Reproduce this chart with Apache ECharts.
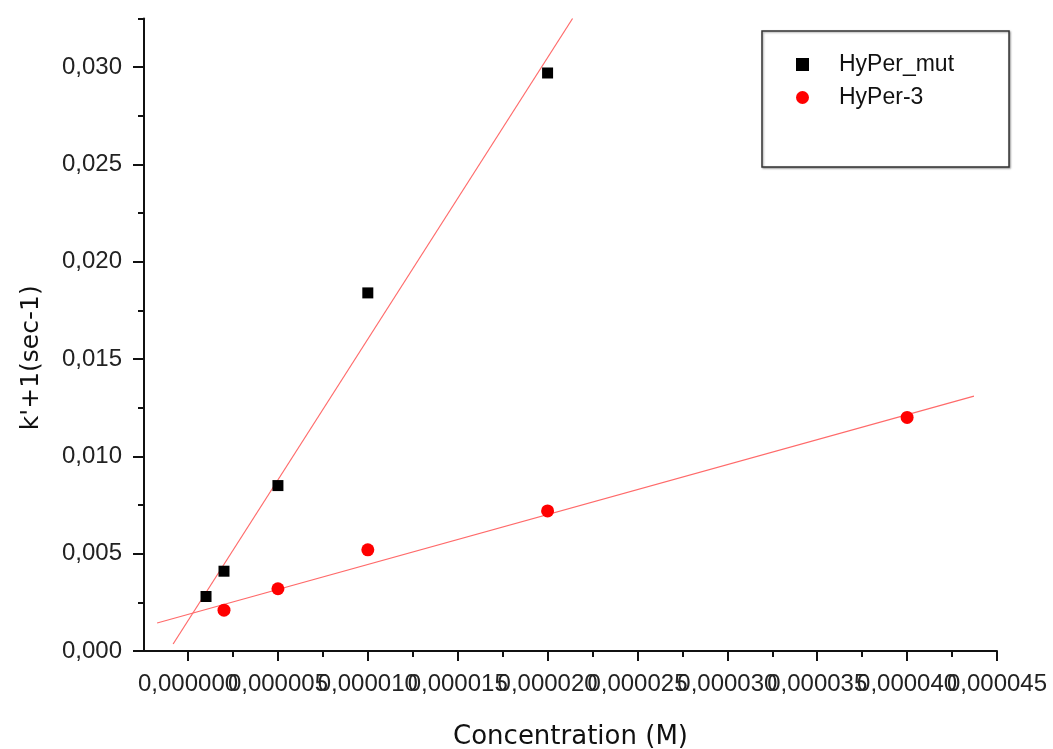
<!DOCTYPE html>
<html>
<head>
<meta charset="utf-8">
<script src="https://cdn.jsdelivr.net/npm/echarts@6/dist/echarts.min.js"></script>
<style>
html,body{margin:0;padding:0;background:#fff;}
#chart{width:1053px;height:749px;}
</style>
</head>
<body>
<div id="chart"></div>
<script>
// ---- data ----
var mutX = [0.000001, 0.000002, 0.000005, 0.000010, 0.000020];
var mutY = [0.0028, 0.0041, 0.0085, 0.0184, 0.0297];
var h3X = [0.000002, 0.000005, 0.000010, 0.000020, 0.000040];
var h3Y = [0.0021, 0.0032, 0.0052, 0.0072, 0.0120];
// fitted-line endpoints as drawn in the reference
var mutFitX = [-0.00000083, 0.00002139];
var mutFitY = [0.00036, 0.0325];
var h3FitX = [-0.00000172, 0.00004372];
var h3FitY = [0.00144, 0.0131];
// tick values (x labels split in two alternating sets so overlapping labels all stay visible)
var xMajorTicks = [0, 0.000005, 0.00001, 0.000015, 0.00002, 0.000025, 0.00003, 0.000035, 0.00004, 0.000045];
var xLabelsEven = [0, 0.00001, 0.00002, 0.00003, 0.00004];
var xLabelsOdd = [0.000005, 0.000015, 0.000025, 0.000035, 0.000045];
var xMinorTicks = [0.0000025, 0.0000075, 0.0000125, 0.0000175, 0.0000225, 0.0000275, 0.0000325, 0.0000375, 0.0000425];
var yMajorTicks = [0, 0.005, 0.010, 0.015, 0.020, 0.025, 0.030];
var yMinorTicks = [0.0025, 0.0075, 0.0125, 0.0175, 0.0225, 0.0275, 0.0325];
var seriesNames = ['HyPer_mut', 'HyPer-3'];

function pairs(xs, ys){ return xs.map(function(x,i){ return [x, ys[i]]; }); }

var xMin = -0.00000245, xMax = 0.000045;
var yMin = 0, yMax = 0.0325;
var axisColor = '#111';
var labelFont = { fontFamily: 'Liberation Sans, Arial, sans-serif', fontSize: 24, color: '#222' };
function fmtX(v){ return v.toFixed(6).replace('.', ','); }

var chart = echarts.init(document.getElementById('chart'));
chart.setOption({
  animation: false,
  backgroundColor: '#fff',
  grid: { left: 144, top: 18.5, right: 56, bottom: 98, containLabel: false, outerBoundsMode: 'none' },
  xAxis: [{
    type: 'value', min: xMin, max: xMax, position: 'bottom',
    name: 'Concentration (M)', nameLocation: 'middle', nameGap: 73,
    nameTextStyle: { fontFamily: 'DejaVu Sans, sans-serif', fontSize: 26, color: '#111' },
    axisLine: { show: true, onZero: false, lineStyle: { color: axisColor, width: 2 } },
    axisTick: { show: true, inside: false, length: 10, customValues: xMajorTicks, lineStyle: { color: axisColor, width: 2 } },
    axisLabel: Object.assign({ margin: 21, customValues: xLabelsEven, showMinLabel: true, showMaxLabel: true, formatter: fmtX }, labelFont),
    splitLine: { show: false }
  }, {
    type: 'value', min: xMin, max: xMax, position: 'bottom', gridIndex: 0,
    axisLine: { show: false, onZero: false },
    axisTick: { show: true, inside: false, length: 6, customValues: xMinorTicks, lineStyle: { color: axisColor, width: 2 } },
    axisLabel: Object.assign({ margin: 21, customValues: xLabelsOdd, showMinLabel: true, showMaxLabel: true, formatter: fmtX }, labelFont),
    splitLine: { show: false }
  }],
  yAxis: [{
    type: 'value', min: yMin, max: yMax, position: 'left',
    name: "k'+1(sec-1)", nameLocation: 'middle', nameGap: 100, nameRotate: 90,
    nameTextStyle: { fontFamily: 'DejaVu Sans, sans-serif', fontSize: 25, color: '#111', padding: [0, 46, 0, 0] },
    axisLine: { show: true, onZero: false, lineStyle: { color: axisColor, width: 2 } },
    axisTick: { show: true, inside: false, length: 11, customValues: yMajorTicks, lineStyle: { color: axisColor, width: 2 } },
    axisLabel: Object.assign({ margin: 22, customValues: yMajorTicks, showMinLabel: true, showMaxLabel: true,
      formatter: function(v){ return v.toFixed(3).replace('.', ','); } }, labelFont),
    splitLine: { show: false }
  }, {
    type: 'value', min: yMin, max: yMax, position: 'left', gridIndex: 0,
    axisLine: { show: false, onZero: false },
    axisTick: { show: true, inside: false, length: 6, customValues: yMinorTicks, lineStyle: { color: axisColor, width: 2 } },
    axisLabel: { show: false },
    splitLine: { show: false }
  }],
  legend: {
    orient: 'vertical', left: 762, top: 31,
    data: [{ name: seriesNames[0], icon: 'rect' }, { name: seriesNames[1], icon: 'circle' }],
    itemWidth: 13, itemHeight: 13, itemGap: 10,
    padding: [22, 55, 58, 34],
    borderColor: '#333', borderWidth: 1.5, backgroundColor: '#fff',
    shadowColor: 'rgba(0,0,0,0.35)', shadowBlur: 2, shadowOffsetX: 1, shadowOffsetY: 1,
    textStyle: { fontFamily: 'Liberation Sans, Arial, sans-serif', fontSize: 23, color: '#111', padding: [0, 0, 0, 25] }
  },
  series: [{
    name: 'fit_mut', type: 'line', xAxisIndex: 0, yAxisIndex: 0,
    data: pairs(mutFitX, mutFitY), symbol: 'none', silent: true,
    lineStyle: { color: '#ff6a6a', width: 1.2 }, z: 1
  }, {
    name: 'fit_h3', type: 'line', xAxisIndex: 0, yAxisIndex: 0,
    data: pairs(h3FitX, h3FitY), symbol: 'none', silent: true,
    lineStyle: { color: '#ff6a6a', width: 1.2 }, z: 1
  }, {
    name: seriesNames[0], type: 'scatter', xAxisIndex: 0, yAxisIndex: 0,
    data: pairs(mutX, mutY), symbol: 'rect', symbolSize: 11,
    itemStyle: { color: '#000', opacity: 1 }, z: 3
  }, {
    name: seriesNames[1], type: 'scatter', xAxisIndex: 0, yAxisIndex: 0,
    data: pairs(h3X, h3Y), symbol: 'circle', symbolSize: 13,
    itemStyle: { color: '#ff0000', opacity: 1 }, z: 3
  }]
});
</script>
</body>
</html>
